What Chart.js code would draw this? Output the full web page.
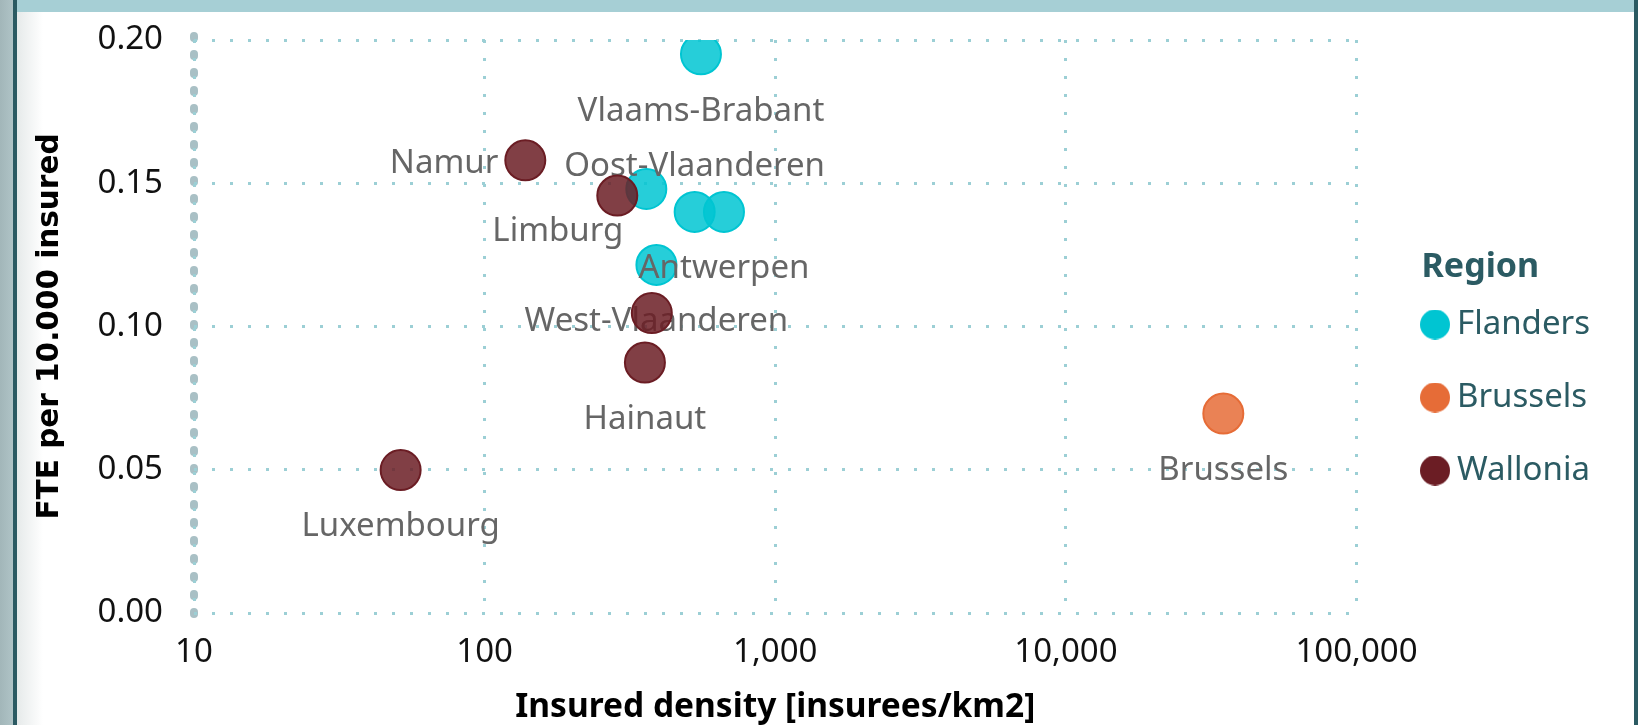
<!DOCTYPE html>
<html>
<head>
<meta charset="utf-8">
<title>FTE per 10.000 insured</title>
<script src="https://cdn.jsdelivr.net/npm/chart.js@4.4.0/dist/chart.umd.min.js"></script>
<style>
    html, body { margin: 0; padding: 0; background: #fff; overflow: hidden; }
    #marco { position: relative; width: 1638px; height: 725px; background: #fff; }
    #sombraIzq { position: absolute; left: 17px; top: 0; width: 26px; height: 725px; background: linear-gradient(to right, #e6eaea, #fff); }
    #bandaIzq { position: absolute; left: 0; top: 0; width: 13px; height: 725px; background: linear-gradient(to right, #a2b6b9, #afc3c6); }
    #lineaIzq { position: absolute; left: 13px; top: 0; width: 4px; height: 725px; background: #2b5a62; }
    #bandaSup { position: absolute; left: 17px; top: 0; width: 1617px; height: 12px; background: #a6cfd5; }
    #lineaDer { position: absolute; left: 1634px; top: 0; width: 4px; height: 725px; background: #2b5a62; }
    #grafico { position: absolute; left: 0; top: 0; }
</style>
</head>
<body>
<div id="marco">
    <div id="sombraIzq"></div>
    <canvas id="grafico" width="1638" height="725"></canvas>
    <div id="bandaIzq"></div>
    <div id="lineaIzq"></div>
    <div id="bandaSup"></div>
    <div id="lineaDer"></div>
</div>
<script>
//DATOS DEL GRAFICO (UNA ENTRADA POR PROVINCIA)
var provincias = ["Antwerpen", "Limburg", "Oost-Vlaanderen", "Vlaams-Brabant", "West-Vlaanderen", "Brussels", "Brabant wallon", "Hainaut", "Liège", "Luxembourg", "Namur"];
var regionProvincia = ["Flanders", "Flanders", "Flanders", "Flanders", "Flanders", "Brussels", "Wallonia", "Wallonia", "Wallonia", "Wallonia", "Wallonia"];
var densidad = [666, 360, 528, 555, 390, 34800, 376, 356, 286, 51.4, 138];
var fte = [0.140, 0.148, 0.140, 0.195, 0.1215, 0.0696, 0.1047, 0.0874, 0.1457, 0.0499, 0.158];

//REGIONES DE LA LEYENDA Y MARCAS DE LOS EJES
var regiones = ["Flanders", "Brussels", "Wallonia"];
var tituloLeyenda = "Region";
var ticksX = [10, 100, 1000, 10000, 100000];
var ticksY = [0, 0.05, 0.10, 0.15, 0.20];

//ESTILOS (COLORES Y POSICION DE LAS ETIQUETAS)
var colorRegion = { "Flanders": "0,197,210", "Brussels": "230,108,55", "Wallonia": "107,29,36" };
var ordenDibujo = { "Flanders": 3, "Brussels": 2, "Wallonia": 1 };
var posEtiqueta = {
    "Antwerpen": "below", "Limburg": "belowLeft", "Oost-Vlaanderen": "above", "Vlaams-Brabant": "below",
    "West-Vlaanderen": "below", "Brussels": "below", "Brabant wallon": "none", "Hainaut": "below",
    "Liège": "none", "Luxembourg": "below", "Namur": "left"
};
var fuente = "'Noto Sans', 'Open Sans', sans-serif";
var colorGrid = "#9ccfd5";
var colorLeyenda = "#2b5b63";

//CREA UN PUNTO DE COLOR PARA LA LEYENDA
function crearPunto(rgb) {
    var c = document.createElement("canvas");
    c.width = 30;
    c.height = 30;
    var g = c.getContext("2d");
    g.fillStyle = "rgb(" + rgb + ")";
    g.beginPath();
    g.arc(15, 15, 15, 0, Math.PI * 2);
    g.fill();
    return c;
}

//ARMA LOS DATASETS POR REGION
var datasets = [];
for (var r = 0; r < regiones.length; r++) {
    var puntos = [];
    for (var i = 0; i < provincias.length; i++) {
        if (regionProvincia[i] == regiones[r]) {
            puntos.push({ x: densidad[i], y: fte[i], nombre: provincias[i] });
        }
    }
    var rgb = colorRegion[regiones[r]];
    datasets.push({
        label: regiones[r],
        data: puntos,
        order: ordenDibujo[regiones[r]],
        backgroundColor: "rgba(" + rgb + ",0.85)",
        borderColor: "rgb(" + rgb + ")",
        borderWidth: 2,
        pointRadius: 20,
        pointHoverRadius: 20
    });
}

//MUEVE LA LEYENDA A LA DERECHA SIN CAMBIAR EL AREA DEL GRAFICO
//Y ESCRIBE EL TITULO "Region" ALINEADO CON LOS PUNTOS
var pluginLeyenda = {
    id: "moverLeyenda",
    afterLayout: function (chart) {
        chart.legend.left += 33;
        chart.legend.right += 33;
    },
    afterDraw: function (chart) {
        var caja = chart.legend.legendHitBoxes[0];
        if (!caja) return;
        var ctx = chart.ctx;
        ctx.save();
        ctx.font = "bold 34px " + fuente;
        ctx.fillStyle = colorLeyenda;
        ctx.textAlign = "left";
        ctx.textBaseline = "middle";
        ctx.fillText(tituloLeyenda, chart.legend.left + 32, caja.top + caja.height / 2 - 57);
        ctx.restore();
    }
};

//LINEA PUNTEADA GRIS DEL EJE Y (SE DIBUJA ANTES DE LA CUADRICULA)
var pluginEjeY = {
    id: "ejeY",
    beforeDraw: function (chart) {
        var ctx = chart.ctx;
        var x = chart.scales.x.getPixelForValue(ticksX[0]);
        var area = chart.chartArea;
        ctx.save();
        ctx.strokeStyle = "#a9c0c5";
        ctx.lineWidth = 8;
        ctx.lineCap = "round";
        ctx.setLineDash([2, 16]);
        ctx.beginPath();
        ctx.moveTo(x, area.top - 4);
        ctx.lineTo(x, area.bottom + 6);
        ctx.stroke();
        ctx.restore();
    }
};

//ETIQUETAS CON EL NOMBRE DE LA PROVINCIA
var pluginEtiquetas = {
    id: "etiquetas",
    afterDatasetDraw: function (chart, args) {
        var ctx = chart.ctx;
        var ds = chart.data.datasets[args.index];
        ctx.save();
        ctx.font = "33px " + fuente;
        ctx.fillStyle = "#666666";
        ctx.textBaseline = "middle";
        for (var i = 0; i < args.meta.data.length; i++) {
            var p = args.meta.data[i];
            var pos = posEtiqueta[ds.data[i].nombre];
            if (pos == "below") {
                ctx.textAlign = "center";
                ctx.fillText(ds.data[i].nombre, p.x, p.y + 57);
            } else if (pos == "above") {
                ctx.textAlign = "center";
                ctx.fillText(ds.data[i].nombre, p.x, p.y - 45);
            } else if (pos == "left") {
                ctx.textAlign = "right";
                ctx.fillText(ds.data[i].nombre, p.x - 27, p.y + 3);
            } else if (pos == "belowLeft") {
                ctx.textAlign = "right";
                ctx.fillText(ds.data[i].nombre, p.x - 23, p.y + 43);
            }
        }
        ctx.restore();
    }
};

var ctx = document.getElementById("grafico").getContext("2d");
var grafico = new Chart(ctx, {
    type: "scatter",
    data: { datasets: datasets },
    plugins: [pluginLeyenda, pluginEjeY, pluginEtiquetas],
    options: {
        responsive: false,
        animation: false,
        events: [],
        layout: { padding: { left: 0, top: 40, right: 71, bottom: 0 } },
        plugins: {
            tooltip: { enabled: false },
            legend: {
                position: "right",
                align: "center",
                labels: {
                    usePointStyle: true,
                    pointStyleWidth: 11,
                    padding: 40,
                    color: colorLeyenda,
                    font: { family: fuente, size: 33 },
                    sort: function (a, b) { return a.datasetIndex - b.datasetIndex; },
                    generateLabels: function (chart) {
                        var items = Chart.defaults.plugins.legend.labels.generateLabels(chart);
                        for (var k = 0; k < items.length; k++) {
                            items[k].pointStyle = crearPunto(colorRegion[items[k].text]);
                        }
                        return items;
                    }
                },
                //EL TITULO SOLO RESERVA EL ESPACIO, SE ESCRIBE EN pluginLeyenda
                title: {
                    display: true,
                    text: tituloLeyenda,
                    position: "start",
                    color: "rgba(0,0,0,0)",
                    font: { family: fuente, size: 33, weight: "bold" },
                    padding: { top: 13, bottom: -22.6 }
                }
            }
        },
        scales: {
            x: {
                type: "logarithmic",
                min: ticksX[0],
                max: ticksX[ticksX.length - 1],
                afterFit: function (scale) { scale.height = 112; },
                afterBuildTicks: function (scale) {
                    scale.ticks = ticksX.map(function (v) { return { value: v }; });
                },
                border: { display: false, dash: [3, 15] },
                grid: { color: colorGrid, lineWidth: 3, drawTicks: false },
                ticks: {
                    padding: 20,
                    color: "#111111",
                    font: { family: fuente, size: 33 },
                    maxRotation: 0,
                    autoSkip: false,
                    callback: function (v) { return Number(v).toLocaleString("en-US"); }
                },
                title: {
                    display: true,
                    text: "Insured density [insurees/km2]",
                    color: "#000000",
                    font: { family: fuente, size: 33.5, weight: "bold" },
                    padding: { top: 0, bottom: -3 }
                }
            },
            y: {
                min: ticksY[0],
                max: ticksY[ticksY.length - 1],
                afterFit: function (scale) {
                    scale.width = 194;
                    scale.paddingTop = 0;
                    scale.paddingBottom = 0;
                },
                afterBuildTicks: function (scale) {
                    scale.ticks = ticksY.map(function (v) { return { value: v }; });
                },
                border: { display: false, dash: [3, 15] },
                grid: { color: colorGrid, lineWidth: 3, drawTicks: false },
                ticks: {
                    padding: 31,
                    color: "#111111",
                    font: { family: fuente, size: 33 },
                    callback: function (v) { return Number(v).toFixed(2); }
                },
                title: {
                    display: true,
                    text: "FTE per 10.000 insured",
                    color: "#000000",
                    font: { family: "'DejaVu Sans', sans-serif", size: 29.5, weight: "bold" },
                    padding: { top: 33, bottom: 0 }
                }
            }
        }
    }
});
</script>
</body>
</html>
